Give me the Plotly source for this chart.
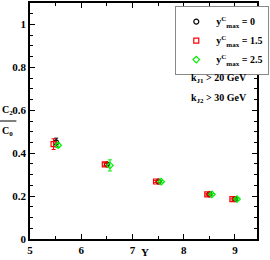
import plotly.graph_objects as go

# Data
y_c0 = [5.51, 6.50, 7.51, 8.50, 9.00]
v_c0 = [0.450, 0.348, 0.268, 0.208, 0.186]
e_c0 = [0.020, 0.006, 0.005, 0.004, 0.004]

y_c15 = [5.46, 6.46, 7.46, 8.46, 8.95]
v_c15 = [0.442, 0.348, 0.268, 0.208, 0.186]
e_c15 = [0.025, 0.007, 0.005, 0.004, 0.004]

y_c25 = [5.55, 6.56, 7.56, 8.55, 9.04]
v_c25 = [0.437, 0.343, 0.267, 0.208, 0.186]
e_c25 = [0.010, 0.026, 0.005, 0.004, 0.004]

names = ["y<sup>C</sup><sub>max</sub> = 0", "y<sup>C</sup><sub>max</sub> = 1.5", "y<sup>C</sup><sub>max</sub> = 2.5"]

font_serif = "Liberation Serif"

fig = go.Figure()
series = [
    (y_c0, v_c0, e_c0, "black", "circle-open", names[0]),
    (y_c15, v_c15, e_c15, "red", "square-open", names[1]),
    (y_c25, v_c25, e_c25, "#00ee00", "diamond-open", names[2]),
]
for xs, ys, es, col, sym, nm in series:
    fig.add_trace(go.Scatter(
        x=xs, y=ys, mode="markers", name=nm,
        marker=dict(symbol=sym, size=5, color=col, line=dict(width=1.2, color=col)),
        error_y=dict(type="data", array=es, color=col, thickness=1, width=2),
    ))

axis_common = dict(
    showgrid=False, zeroline=False, showline=True, linecolor="black", linewidth=1.5,
    mirror="allticks", ticks="inside", ticklen=5, tickwidth=1, tickcolor="black",
    tickfont=dict(family=font_serif, size=11, color="black", weight="bold"),
)
fig.update_xaxes(range=[5, 9.43], dtick=1, tick0=5,
                 minor=dict(dtick=0.5, ticks="inside", ticklen=3, tickcolor="black"),
                 **axis_common)
fig.update_yaxes(range=[0, 1.1], dtick=0.2, tick0=0,
                 minor=dict(dtick=0.05, ticks="inside", ticklen=3, tickcolor="black"),
                 **axis_common)

fig.update_layout(
    width=270, height=260,
    margin=dict(l=30, r=5, t=1, b=21),
    paper_bgcolor="white", plot_bgcolor="white",
    font=dict(family=font_serif, color="black"),
    showlegend=True,
    legend=dict(x=0.64, y=0.987, xanchor="left", yanchor="top",
                bordercolor="#888888", borderwidth=1, bgcolor="white",
                font=dict(family=font_serif, size=10, color="black", weight="bold"),
                itemwidth=30, tracegroupgap=0),
    annotations=[
        dict(text="<b>Y</b>", x=0.506, y=-0.088, xref="paper", yref="paper",
             showarrow=False, xanchor="center", yanchor="bottom",
             font=dict(family=font_serif, size=11)),
        dict(text="<b>C<sub>2</sub></b>", x=-0.1, y=0.51, xref="paper", yref="paper",
             showarrow=False, xanchor="center", yanchor="bottom",
             font=dict(family=font_serif, size=10)),
        dict(text="<b>C<sub>0</sub></b>", x=-0.1, y=0.492, xref="paper", yref="paper",
             showarrow=False, xanchor="center", yanchor="top",
             font=dict(family=font_serif, size=10)),
        dict(text="<b>k<sub>J1</sub> > 20 GeV</b>", x=0.70, y=0.68, xref="paper", yref="paper",
             showarrow=False, xanchor="left", yanchor="middle",
             font=dict(family=font_serif, size=10)),
        dict(text="<b>k<sub>J2</sub> > 30 GeV</b>", x=0.70, y=0.597, xref="paper", yref="paper",
             showarrow=False, xanchor="left", yanchor="middle",
             font=dict(family=font_serif, size=10)),
    ],
    shapes=[
        dict(type="line", xref="paper", yref="paper", x0=-0.14, x1=-0.06, y0=0.5, y1=0.5,
             line=dict(color="black", width=1)),
    ],
)

fig.write_html("out.html", config={"displayModeBar": False},
               post_script="document.body.style.margin='0';document.body.style.overflow='hidden';")
